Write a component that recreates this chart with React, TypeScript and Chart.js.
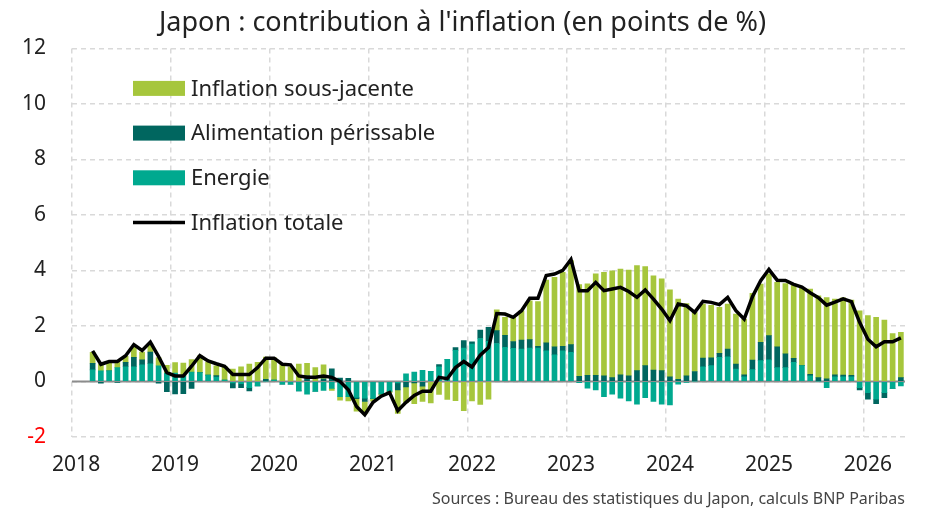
import React, { useEffect, useRef } from "react";
import { Chart, registerables } from "chart.js";

Chart.register(...registerables);

// Monthly categories: Jan 2018 .. May 2026 (data starts Mar 2018)
const START_YEAR = 2018;
const MONTHS = 101;
const LEAD_EMPTY = 2;

const TITLE = "Japon : contribution à l'inflation (en points de %)";
const SOURCE = "Sources : Bureau des statistiques du Japon, calculs BNP Paribas";

const yTicks = [-2, 0, 2, 4, 6, 8, 10, 12];

// Contributions (points de %), Mar 2018 .. May 2026
const energie = [
  0.42, 0.38, 0.38, 0.5, 0.53, 0.53, 0.6, 0.64, 0.56, 0.3,
  0.3, 0.2, 0.34, 0.32, 0.23, 0.16, 0.05, -0.05, -0.08, -0.22, -0.16, 0.0,
  0.05, -0.1, -0.1, -0.34, -0.46, -0.36, -0.32, -0.25, -0.55, -0.55, -0.57, -0.6,
  -0.61, -0.45, -0.35, -0.05, 0.28, 0.34, 0.4, 0.37, 0.53, 0.8, 1.12, 1.2,
  1.35, 1.55, 1.45, 1.37, 1.23, 1.19, 1.17, 1.2, 1.2, 1.1, 0.96, 1.1,
  1.05, -0.04, -0.24, -0.3, -0.55, -0.46, -0.6, -0.7, -0.82, -0.58, -0.72, -0.82,
  -0.84, -0.1, -0.03, 0.0, 0.53, 0.57, 0.87, 0.89, 0.45, 0.17, 0.43, 0.75,
  0.78, 0.5, 0.5, 0.69, 0.57, 0.2, 0.0, -0.22, 0.17, 0.17, 0.17, -0.22,
  -0.4, -0.64, -0.4, -0.25, -0.16,
];

const alimentation = [
  0.23, -0.06, 0.0, -0.03, 0.16, 0.34, 0.18, 0.42, -0.06, -0.37,
  -0.45, -0.44, -0.25, 0.0, 0.0, 0.05, 0.0, -0.18, -0.14, -0.12, 0.0, 0.08,
  0.0, 0.0, 0.0, 0.0, 0.2, 0.0, 0.1, 0.46, 0.12, 0.11, -0.05, -0.12,
  0.0, 0.0, 0.0, -0.25, -0.2, -0.05, -0.17, 0.0, 0.08, 0.0, 0.1, 0.27,
  0.08, 0.3, 0.5, 0.46, 0.43, 0.25, 0.32, 0.31, 0.07, 0.29, 0.29, 0.17,
  0.28, 0.19, 0.22, 0.22, 0.2, 0.14, 0.24, 0.2, 0.39, 0.57, 0.41, 0.39,
  0.17, 0.08, 0.2, 0.36, 0.31, 0.28, 0.14, 0.28, 0.18, 0.07, 0.34, 0.66,
  0.87, 0.75, 0.5, 0.14, 0.0, 0.06, 0.14, 0.1, 0.07, 0.06, 0.05, -0.08,
  -0.24, -0.16, -0.18, 0.0, 0.14,
];

const sousJacente = [
  0.4, 0.24, 0.3, 0.2, 0.22, 0.36, 0.28, 0.3, 0.3, 0.28,
  0.38, 0.46, 0.45, 0.6, 0.47, 0.35, 0.5, 0.45, 0.53, 0.63, 0.69, 0.8,
  0.8, 0.63, 0.53, 0.63, 0.45, 0.5, 0.5, -0.07, -0.12, -0.15, -0.45, -0.45,
  -0.1, -0.05, -0.05, -0.85, -0.55, -0.75, -0.55, -0.77, -0.47, -0.65, -0.69, -1.05,
  -0.7, -0.83, -0.64, 0.75, 0.65, 0.87, 1.06, 1.4, 1.61, 2.26, 2.5, 2.66,
  3.03, 3.3, 3.3, 3.66, 3.73, 3.85, 3.81, 3.81, 3.79, 3.57, 3.4, 3.31,
  3.13, 2.89, 2.61, 2.13, 1.95, 1.89, 1.66, 1.62, 1.8, 2.0, 2.41, 2.1,
  2.23, 2.32, 2.53, 2.68, 2.8, 3.07, 2.95, 2.92, 2.73, 2.78, 2.71, 2.55,
  2.37, 2.31, 2.21, 1.73, 1.63,
];

const inflationTotale = [
  1.1, 0.62, 0.72, 0.72, 0.93, 1.33, 1.12, 1.42, 0.9, 0.32,
  0.2, 0.2, 0.55, 0.93, 0.74, 0.64, 0.55, 0.25, 0.25, 0.25, 0.5, 0.84,
  0.84, 0.62, 0.6, 0.2, 0.15, 0.15, 0.2, 0.15, 0.0, -0.3, -0.9, -1.2,
  -0.75, -0.53, -0.4, -1.05, -0.75, -0.5, -0.35, -0.35, 0.15, 0.1, 0.5, 0.72,
  0.52, 0.95, 1.22, 2.45, 2.43, 2.31, 2.55, 3.0, 3.0, 3.82, 3.87, 4.0,
  4.4, 3.27, 3.27, 3.57, 3.27, 3.33, 3.39, 3.24, 3.03, 3.3, 2.97, 2.61,
  2.19, 2.79, 2.73, 2.49, 2.89, 2.85, 2.77, 3.03, 2.55, 2.25, 3.05, 3.63,
  4.04, 3.65, 3.64, 3.5, 3.4, 3.2, 3.02, 2.75, 2.86, 2.98, 2.88, 2.13,
  1.52, 1.25, 1.43, 1.43, 1.57,
];

const COLORS = {
  core: "#a6c63c",
  food: "#00665f",
  energy: "#00a98f",
  total: "#000000",
  grid: "#d9d9d9",
  zero: "#8c8c8c",
  text: "#222222",
};

const FONT = "'Noto Sans', sans-serif";

const labels: string[] = Array.from({ length: MONTHS }, (_, i) => {
  const y = START_YEAR + Math.floor(i / 12);
  const m = (i % 12) + 1;
  return `${y}-${String(m).padStart(2, "0")}`;
});

const pad = (arr: number[]) => [...Array(LEAD_EMPTY).fill(null), ...arr];

const zeroLinePlugin = {
  id: "zeroLine",
  beforeDatasetsDraw(chart: any) {
    const { ctx, chartArea, scales } = chart;
    const y = scales.y.getPixelForValue(0);
    ctx.save();
    ctx.strokeStyle = COLORS.zero;
    ctx.lineWidth = 2;
    ctx.beginPath();
    ctx.moveTo(chartArea.left, y);
    ctx.lineTo(chartArea.right, y);
    ctx.stroke();
    ctx.restore();
  },
};

const legendPlugin = {
  id: "insideLegend",
  afterDraw(chart: any) {
    const { ctx, chartArea } = chart;
    const x0 = chartArea.left + 61;
    const y0 = chartArea.top + 40;
    const step = 44.7;
    const w = 52;
    const h = 15;
    const order = [2, 1, 0, 3];
    ctx.save();
    ctx.font = `22px ${FONT}`;
    ctx.textBaseline = "middle";
    ctx.textAlign = "left";
    order.forEach((di, k) => {
      const ds = chart.data.datasets[di];
      const cy = y0 + k * step;
      if (ds.type === "line") {
        ctx.strokeStyle = ds.borderColor;
        ctx.lineWidth = 3.5;
        ctx.beginPath();
        ctx.moveTo(x0, cy);
        ctx.lineTo(x0 + w, cy);
        ctx.stroke();
      } else {
        ctx.fillStyle = ds.backgroundColor;
        ctx.fillRect(x0, cy - h / 2, w, h);
      }
      ctx.fillStyle = COLORS.text;
      ctx.fillText(ds.label, x0 + w + 6, cy + 1);
    });
    ctx.restore();
  },
};

const sourcePlugin = {
  id: "sourceText",
  afterDraw(chart: any) {
    const { ctx, chartArea } = chart;
    ctx.save();
    ctx.font = `16px ${FONT}`;
    ctx.fillStyle = "#444444";
    ctx.textAlign = "right";
    ctx.textBaseline = "middle";
    ctx.fillText(SOURCE, chartArea.right, chart.height - 12);
    ctx.restore();
  },
};

export default function App() {
  const ref = useRef<HTMLCanvasElement | null>(null);

  useEffect(() => {
    if (!ref.current) return;
    const chart = new Chart(ref.current, {
      type: "bar",
      data: {
        labels,
        datasets: [
          {
            type: "bar",
            label: "Energie",
            data: pad(energie),
            backgroundColor: COLORS.energy,
            barThickness: 5,
            stack: "contrib",
            order: 1,
          },
          {
            type: "bar",
            label: "Alimentation périssable",
            data: pad(alimentation),
            backgroundColor: COLORS.food,
            barThickness: 5,
            stack: "contrib",
            order: 1,
          },
          {
            type: "bar",
            label: "Inflation sous-jacente",
            data: pad(sousJacente),
            backgroundColor: COLORS.core,
            barThickness: 5,
            stack: "contrib",
            order: 1,
          },
          {
            type: "line",
            label: "Inflation totale",
            data: pad(inflationTotale),
            borderColor: COLORS.total,
            backgroundColor: COLORS.total,
            borderWidth: 3.5,
            pointRadius: 0,
            tension: 0,
            stack: "total",
            order: 0,
          },
        ] as any,
      },
      options: {
        responsive: false,
        animation: false,
        devicePixelRatio: 1,
        layout: { padding: { left: 0, right: 0, top: 0, bottom: 32 } },
        plugins: {
          legend: { display: false },
          tooltip: { enabled: false },
          title: {
            display: true,
            text: TITLE,
            color: COLORS.text,
            font: { family: FONT, size: 27, weight: "normal" },
            lineHeight: 1.2,
            padding: { top: 7, bottom: 9 },
          },
        },
        scales: {
          x: {
            stacked: true,
            offset: true,
            grid: {
              offset: true,
              drawTicks: false,
              lineWidth: 1.5,
              color: (c: any) => (c.index % 12 === 0 ? COLORS.grid : "rgba(0,0,0,0)"),
            },
            border: { display: false, dash: [5, 4] },
            ticks: {
              autoSkip: false,
              maxRotation: 0,
              minRotation: 0,
              padding: 15,
              color: COLORS.text,
              font: { family: FONT, size: 21 },
              callback: (_v: any, i: number) => (i % 12 === 0 ? String(START_YEAR + i / 12) : ""),
            },
            afterFit: (s: any) => {
              s.height = 42;
            },
          },
          y: {
            stacked: true,
            min: yTicks[0],
            max: yTicks[yTicks.length - 1],
            afterBuildTicks: (s: any) => {
              s.ticks = yTicks.map((v) => ({ value: v }));
            },
            grid: { drawTicks: false, lineWidth: 1.5, color: COLORS.grid },
            border: { display: false, dash: [5, 4] },
            ticks: {
              padding: 26,
              color: (c: any) => (c.tick && c.tick.value < 0 ? "#ff0000" : COLORS.text),
              font: { family: FONT, size: 21 },
            },
            afterFit: (s: any) => {
              s.width = 72;
            },
          },
          yR: {
            type: "linear",
            position: "right",
            display: true,
            grid: { display: false },
            border: { display: false },
            ticks: { display: false },
            afterFit: (s: any) => {
              s.width = 20;
            },
          },
        },
      } as any,
      plugins: [zeroLinePlugin, legendPlugin, sourcePlugin],
    });
    return () => chart.destroy();
  }, []);

  return (
    <div style={{ position: "fixed", left: 0, top: 0, width: 925, height: 511, background: "#fff" }}>
      <canvas ref={ref} width={925} height={511} />
    </div>
  );
}
